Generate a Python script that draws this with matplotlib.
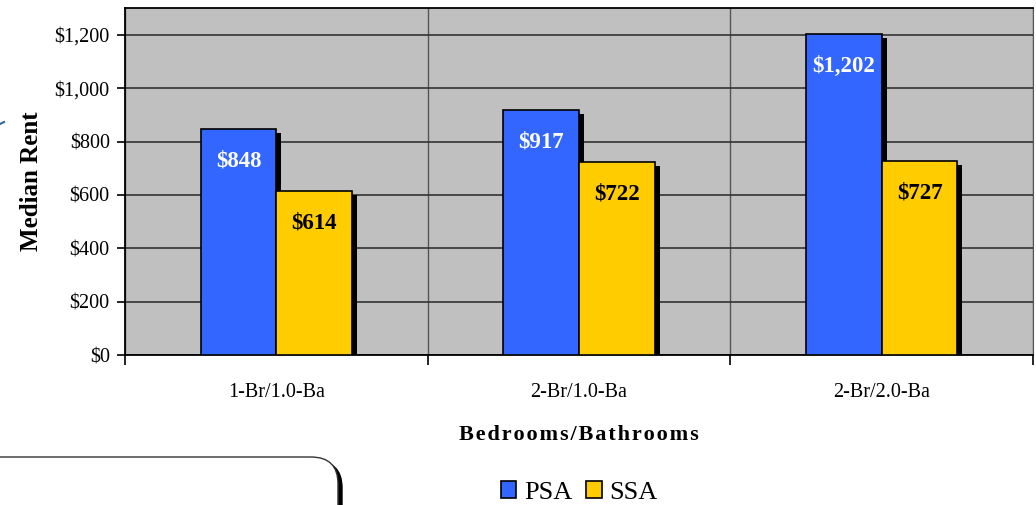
import matplotlib.pyplot as plt
import matplotlib.transforms as mtransforms
from matplotlib.patches import FancyBboxPatch
import numpy as np

# Median rent by unit type
categories = ['1-Br/1.0-Ba', '2-Br/1.0-Ba', '2-Br/2.0-Ba']
psa = [848, 917, 1202]
ssa = [614, 722, 727]

plt.rcParams['font.family'] = ['Liberation Serif', 'DejaVu Serif']

fig = plt.figure(figsize=(10.36, 5.05), dpi=100)
ax = fig.add_axes([0.1207, 0.297, 0.8764, 0.687])
ax.set_facecolor('#C0C0C0')

x = np.arange(len(categories))
w = 0.25

# drop shadows behind the bars
shadow = mtransforms.offset_copy(ax.transData, fig=fig, x=5, y=-4, units='dots')
for off, vals in ((-w / 2, psa), (w / 2, ssa)):
    ax.bar(x + off, vals, w, color='black', transform=shadow, zorder=2)

b1 = ax.bar(x - w / 2, psa, w, color='#3366FF', edgecolor='black', linewidth=1.2, zorder=3, label='PSA')
b2 = ax.bar(x + w / 2, ssa, w, color='#FFCC00', edgecolor='black', linewidth=1.2, zorder=3, label='SSA')

for xi, v in zip(x, psa):
    ax.annotate('${:,}'.format(v), (xi - w / 2, v), xytext=(0, -23), textcoords='offset points',
                ha='center', va='center', color='white', fontsize=16.5, fontweight='bold', zorder=4)
for xi, v in zip(x, ssa):
    ax.annotate('${:,}'.format(v), (xi + w / 2, v), xytext=(0, -23), textcoords='offset points',
                ha='center', va='center', color='black', fontsize=16.5, fontweight='bold', zorder=4)

ax.set_xlim(-0.5, 2.5)
ax.set_ylim(0, 1300)
ax.set_yticks(np.arange(0, 1201, 200))
ax.set_yticklabels(['${:,}'.format(v) for v in range(0, 1201, 200)])
ax.set_xticks(np.arange(-0.5, 2.6, 1.0))
ax.set_xticklabels([])
ax.set_xticks(x, minor=True)
ax.set_xticklabels(categories, minor=True)
ax.tick_params(axis='x', which='minor', length=0, pad=20, labelsize=14.5)
ax.tick_params(axis='x', which='major', length=7, width=1.2, direction='out')
ax.tick_params(axis='y', length=6, width=1.2, pad=5, labelsize=14.5)

ax.grid(axis='y', color='#333333', linewidth=1.2)
ax.grid(axis='x', which='major', color='#555555', linewidth=1)
ax.set_axisbelow(True)
for side in ('left', 'bottom', 'top'):
    ax.spines[side].set_color('black')
    ax.spines[side].set_linewidth(1.3)
ax.spines['right'].set_color('#555555')

ax.set_ylabel('Median Rent', fontsize=18, fontweight='bold', labelpad=8)
ax.set_xlabel('\u200a'.join('Bedrooms/Bathrooms'), fontsize=16, fontweight='bold', labelpad=17)

fig.legend(handles=[b1, b2], loc='center', bbox_to_anchor=(0.559, 0.025), ncol=2, frameon=False,
           fontsize=19, handlelength=0.6, handleheight=0.6, handletextpad=0.3, columnspacing=0.5)

# rounded text box at lower left, with its shadow
W, H = 1036, 505
box_shadow = FancyBboxPatch((-36 / W, -60 / H), 378 / W, 104 / H,
                            boxstyle='round,pad=0,rounding_size=0.026', mutation_aspect=2.05,
                            transform=fig.transFigure, facecolor='black', edgecolor='black', zorder=0)
box = FancyBboxPatch((-40 / W, -56 / H), 378 / W, 104 / H,
                     boxstyle='round,pad=0,rounding_size=0.026', mutation_aspect=2.05,
                     transform=fig.transFigure, facecolor='white', edgecolor='#333333',
                     linewidth=1, zorder=1)
fig.patches.extend([box_shadow, box])

# stray arrow fragment at the left edge
fig.add_artist(plt.Line2D([0, 4 / W], [1 - 124 / H, 1 - 122 / H], color='#336699', linewidth=1.5,
                          transform=fig.transFigure))

fig.savefig('out.png', dpi=100)
